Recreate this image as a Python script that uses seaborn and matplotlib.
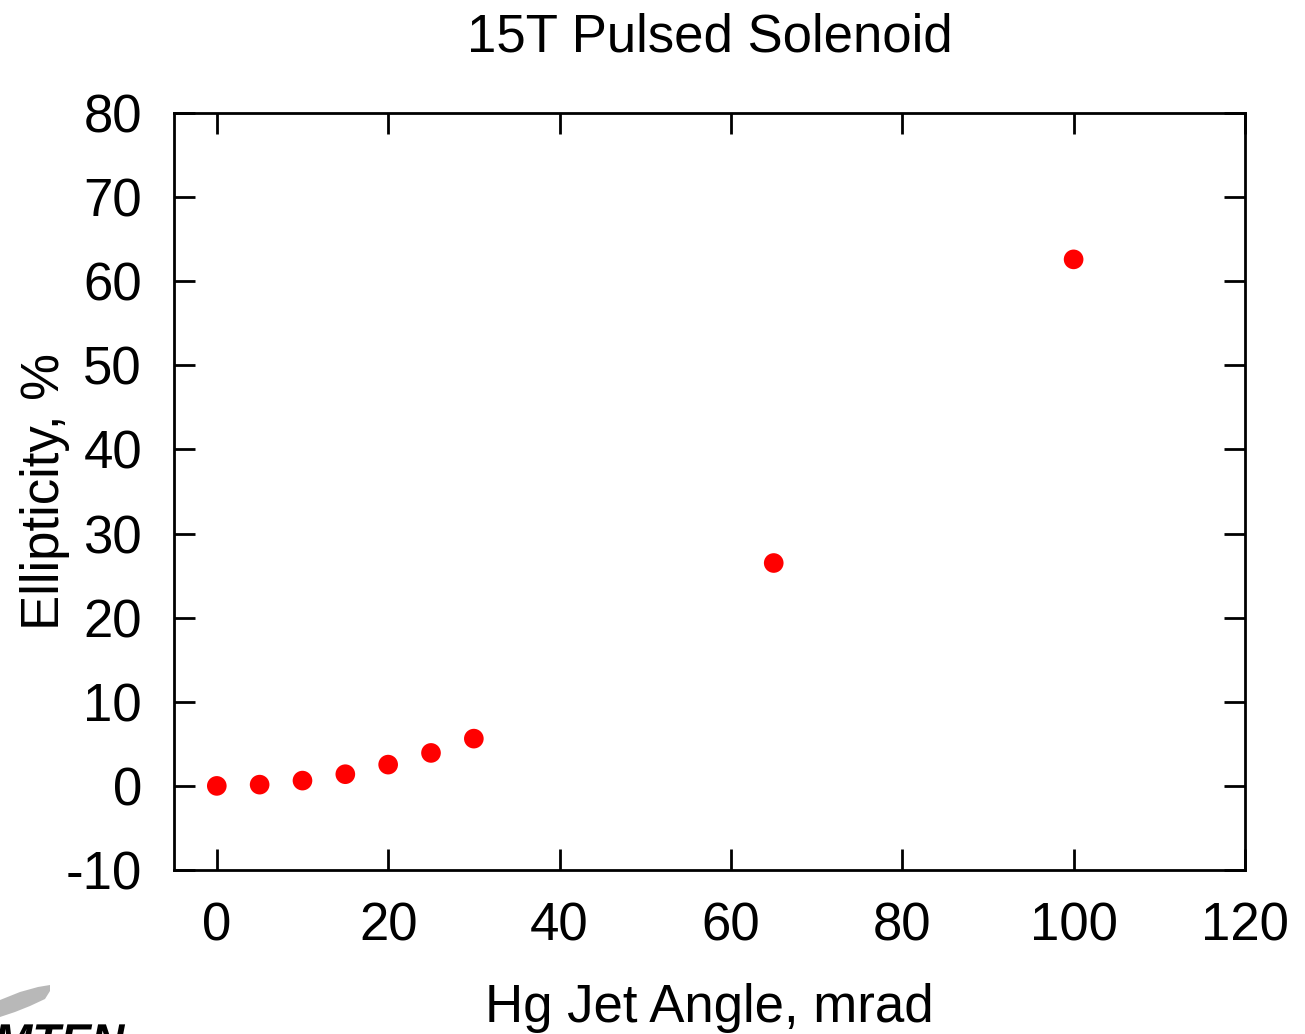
import matplotlib
matplotlib.use("Agg")
import matplotlib.pyplot as plt
import seaborn as sns
import pandas as pd
from matplotlib.textpath import TextPath
from matplotlib.patches import PathPatch, Polygon
from matplotlib.font_manager import FontProperties

# ─── Data ─────────────────────────────────────────────────────────────────────
angle_mrad = [0, 5, 10, 15, 20, 25, 30, 65, 100]
ellipticity_pct = [0.0, 0.15, 0.63, 1.39, 2.53, 3.92, 5.62, 26.5, 62.6]
x_ticks = [0, 20, 40, 60, 80, 100, 120]
y_ticks = [-10, 0, 10, 20, 30, 40, 50, 60, 70, 80]

df = pd.DataFrame({"angle": angle_mrad, "ellip": ellipticity_pct})

sns.set_style("ticks")
plt.rcParams["font.family"] = ["Liberation Sans", "DejaVu Sans"]
plt.rcParams["text.color"] = "black"
plt.rcParams["axes.labelcolor"] = "black"
plt.rcParams["axes.unicode_minus"] = False

FS = 38

fig = plt.figure(figsize=(13.05, 10.34), dpi=100)
ax = fig.add_axes([0.1333, 0.1586, 0.8207, 0.7321])

sns.scatterplot(data=df, x="angle", y="ellip", ax=ax, color="#ff0000",
                s=200, edgecolor="none", legend=False, zorder=3)

ax.set_xlim(-5, 120)
ax.set_ylim(-10, 80)
ax.set_xticks(x_ticks)
ax.set_yticks(y_ticks)
ax.tick_params(direction="in", length=15, width=2, labelsize=FS,
               top=True, right=True, colors="black")
ax.tick_params(axis="x", pad=23)
ax.tick_params(axis="y", pad=23)
for sp in ax.spines.values():
    sp.set_linewidth(2)
    sp.set_color("black")

ax.set_xlabel("Hg Jet Angle, mrad", fontsize=FS, labelpad=22)
ax.set_ylabel("Ellipticity, %", fontsize=FS, labelpad=-3)
ax.set_title("15T Pulsed Solenoid", fontsize=FS, pad=44)

# ─── partial logo, lower-left corner (graphic, cut by the page edge) ──────────
ov = fig.add_axes([0, 0, 1, 1], zorder=-1)
ov.set_xlim(0, 1305)
ov.set_ylim(0, 1034)
ov.axis("off")
H = 1034
swoosh = [(0, 1000), (20, 992), (38, 987), (50, 985), (50, 991), (45, 999),
          (30, 1006), (15, 1012), (0, 1017)]
ov.add_patch(Polygon([(x, H - y) for x, y in swoosh], closed=True,
                     facecolor="#b8b8b8", edgecolor="none"))
logo = TextPath((-6, -22), "MTEN", size=46,
                prop=FontProperties(family="Liberation Sans",
                                    weight="bold", style="italic"))
ov.add_patch(PathPatch(logo, facecolor="black", edgecolor="none"))

fig.savefig("out.png", dpi=100)
